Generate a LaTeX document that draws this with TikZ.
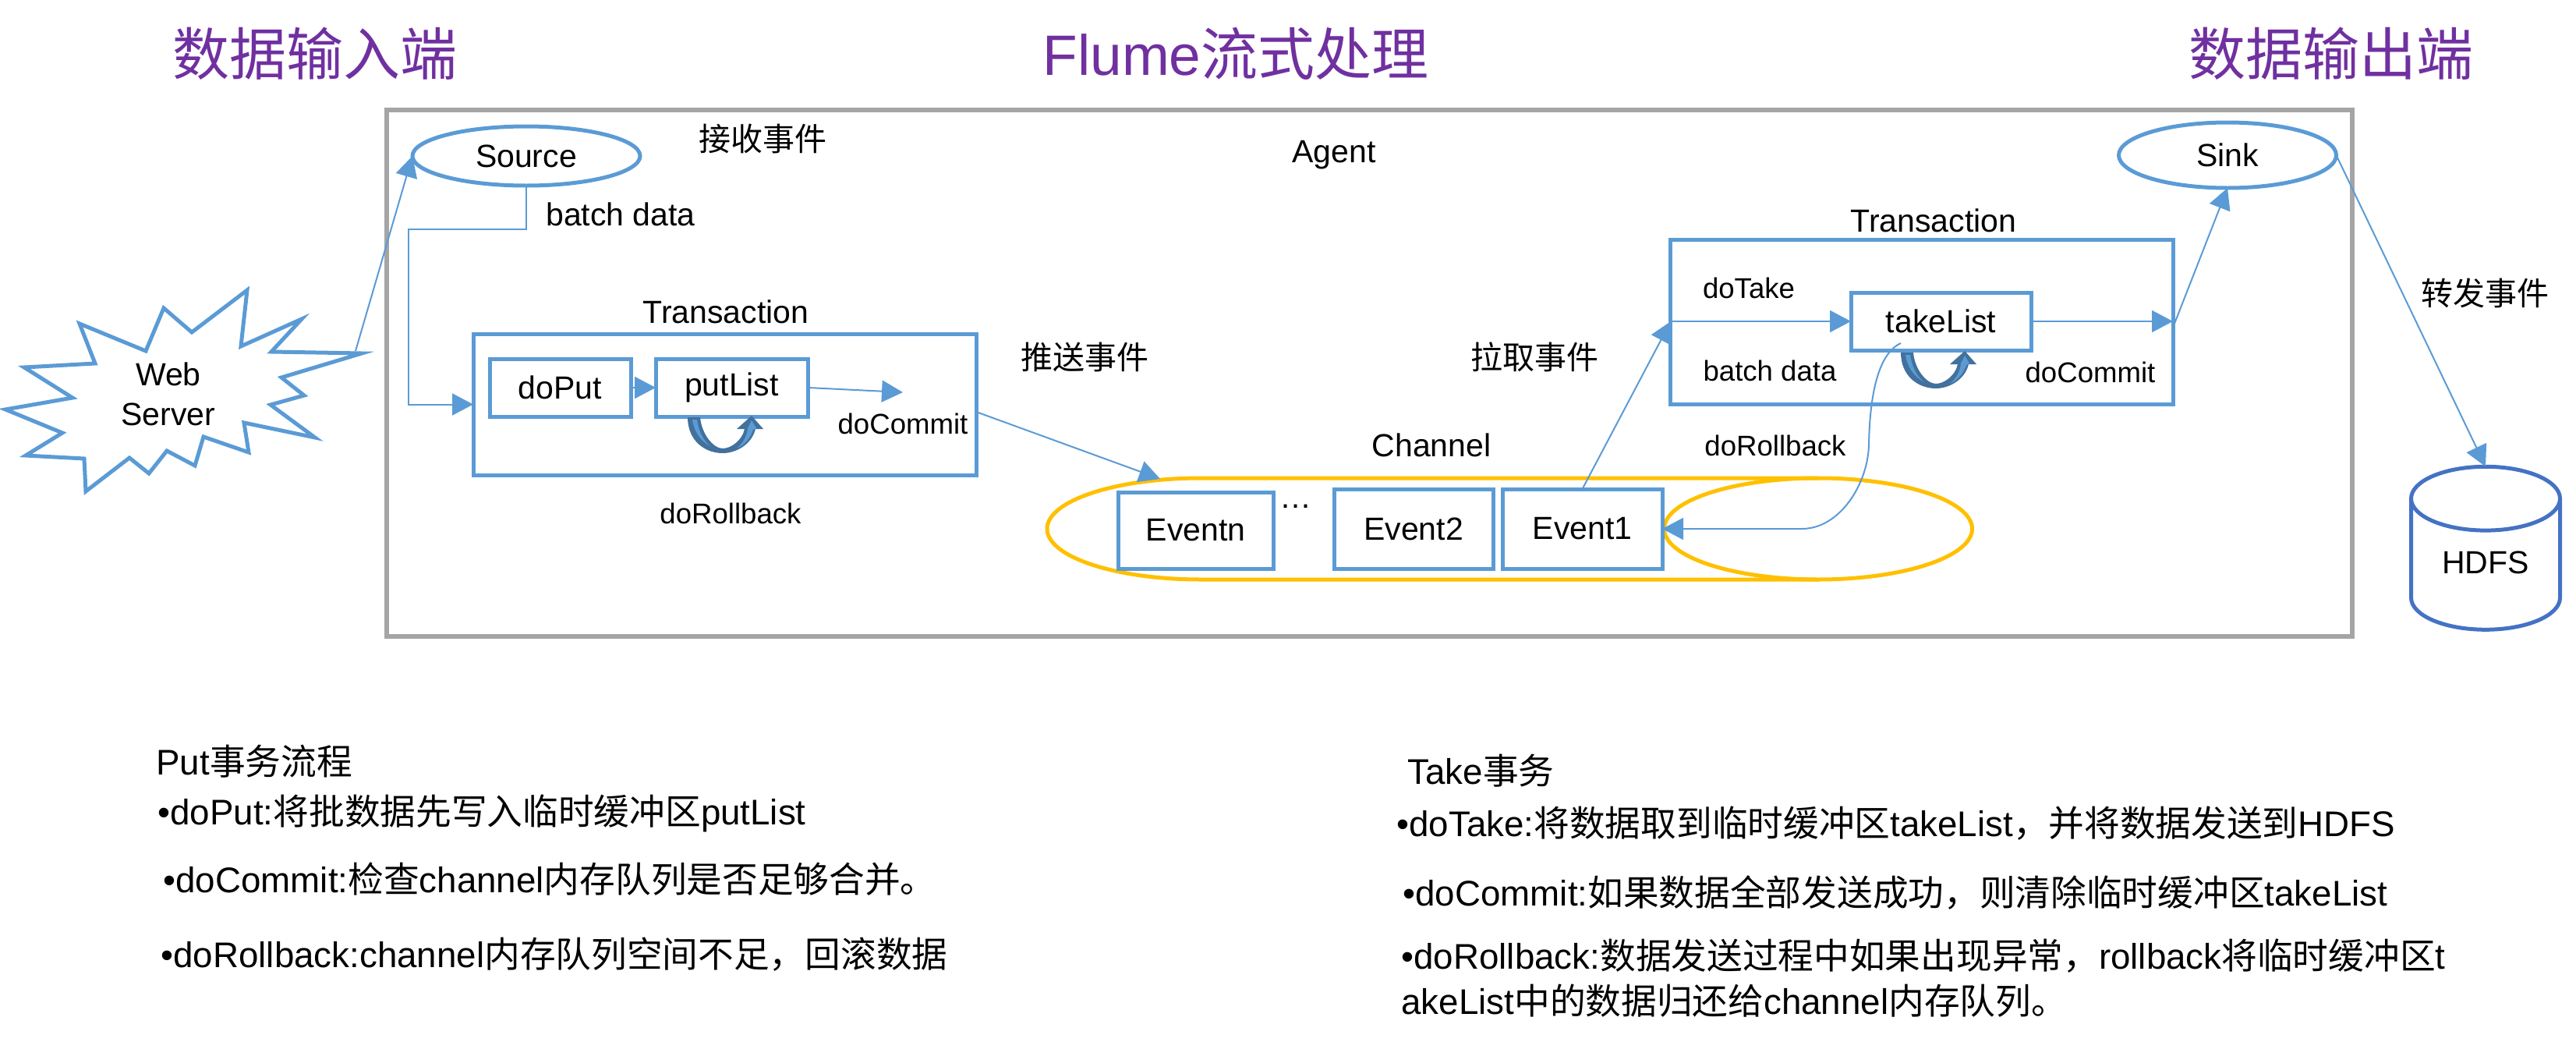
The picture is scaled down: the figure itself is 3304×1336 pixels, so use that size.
\documentclass[tikz,border=0pt]{standalone}
\usepackage{fontspec}
\setmainfont{Liberation Sans}
\newfontfamily\cn{Noto Sans CJK SC}
\usetikzlibrary{arrows.meta, shapes.geometric}
\definecolor{lineblue}{HTML}{5B9BD5}
\definecolor{loopblue}{HTML}{41719C}
\definecolor{dbblue}{HTML}{4472C4}
\definecolor{chanyellow}{HTML}{FFC000}
\definecolor{agentgray}{HTML}{A5A5A5}
\definecolor{titlepurple}{HTML}{7030A0}
\newcommand{\fs}[1]{\fontsize{#1}{#1}\selectfont}

\begin{document}
\begin{tikzpicture}[
            x = 1pt, y = -1pt, % pixels of the sheet
            > = {Triangle[length=27pt,width=28pt]}, % arrow head style
            line width = 5pt,
            lbl/.style = {inner sep = 0pt, font = \fs{41}},
            small/.style = {inner sep = 0pt, font = \fs{36.6}},
            titletext/.style = {inner sep = 0pt, text = titlepurple, font = \fs{73}},
            note/.style = {inner sep = 0pt, anchor = west, font = \fs{45.7}},
            boxnode/.style = {draw = lineblue, fill = white, rectangle, inner sep = 0pt, outer sep = 0pt, font = \fs{41}},
            endnode/.style = {draw = lineblue, ellipse, inner sep = 0pt, outer sep = 0pt, font = \fs{41}},
            conn/.style = {->, draw = lineblue, line width = 2pt},
            pics/rollloop/.style = {code = {
                \fill[loopblue] (0,0) -- (16,0) .. controls (18,22) and (33,40) .. (45,40) .. controls (55,40) and (70,30) .. (73,15)
                    -- (63,15) -- (82,-2) -- (97,15) -- (87,15) .. controls (82,35) and (62,46) .. (45,46) .. controls (22,46) and (0,30) .. (0,0) -- cycle;
                \fill[lineblue] (82,4) -- (88,14) -- (84,16) .. controls (80,28) and (72,36) .. (63,40) .. controls (72,32) and (76,24) .. (77,14) -- cycle;
                \fill[lineblue] (6,3) -- (12,3) .. controls (14,18) and (20,30) .. (30,38) .. controls (16,30) and (8,18) .. (6,3) -- cycle;
            }}
        ]
        \useasboundingbox (0,0) rectangle (3304,1336);

        % titles
        \node[titletext] (inTitle) at (404,69) {\cn 数据输入端};
        \node[titletext] (flumeTitle) at (1585,69) {Flume{\cn 流式处理}};
        \node[titletext] (outTitle) at (2990,69) {\cn 数据输出端};

        % agent frame
        \node[draw = agentgray, line width = 6pt, rectangle, inner sep = 0pt, minimum width = 2521pt, minimum height = 675pt] (agent) at (1756.5,478.5) {};
        \node[lbl] (agentText) at (1711,199) {Agent};

        % web server
        \draw[draw = lineblue] (317,372) -- (309,444) -- (387,409) -- (348,451) -- (464,453) -- (361,484)
            -- (390,507) -- (347,519) -- (404,561) -- (313,542) -- (319,580) -- (261,560) -- (250,597)
            -- (214,578) -- (191,607) -- (166,587) -- (110,630) -- (108,588) -- (33,584) -- (80,555)
            -- (7,525) -- (93,510) -- (31,471) -- (122,466) -- (102,415) -- (187,450) -- (210,395)
            -- (246,426) -- cycle;
        \node[lbl, align = center] (web) at (216,505) {Web\\[10pt]Server};
        \coordinate (webTip) at (456,450);

        % source and sink
        \node[endnode, minimum width = 292pt, minimum height = 76pt] (source) at (675,200) {Source};
        \node[endnode, minimum width = 279pt, minimum height = 84pt] (sink) at (2857,199) {Sink};

        % put side
        \node[boxnode, minimum width = 645pt, minimum height = 181pt] (putTrans) at (929.5,518.5) {};
        \node[boxnode, minimum width = 181pt, minimum height = 74pt] (doPut) at (718.5,497) {doPut};
        \node[boxnode, minimum width = 195pt, minimum height = 74pt] (putList) at (938.5,497) {putList};
        \coordinate (putEnd) at (1158,503);
        \coordinate (bend) at (524,294);
        \node[lbl] (batchUp) at (796,275) {batch data};
        \node[lbl] (putTransText) at (931,400) {Transaction};
        \node[small] (putCommit) at (1158,543) {doCommit};
        \node[small] (putRoll) at (937,658) {doRollback};

        % channel
        \node[draw = chanyellow, ellipse, inner sep = 0pt, outer sep = 0pt, minimum width = 395pt, minimum height = 130pt] (chanEnd) at (2332,678) {};
        \draw[draw = chanyellow] (chanEnd.north) -- (1540,613) .. controls (1431,613) and (1343,642) .. (1343,678)
            .. controls (1343,714) and (1431,743) .. (1540,743) -- (chanEnd.south);
        \node[boxnode, minimum width = 199pt, minimum height = 98pt] (eventn) at (1533.5,680) {Eventn};
        \node[boxnode, minimum width = 204pt, minimum height = 102pt] (event2) at (1813,678) {Event2};
        \node[boxnode, minimum width = 205pt, minimum height = 102pt] (event1) at (2029.5,678) {Event1};
        \node[lbl] (dots) at (1662,649) {\dots};
        \node[lbl] (chanText) at (1836,571) {Channel};
        \coordinate (chanIn) at (1488,614);

        % take side
        \node[boxnode, minimum width = 645pt, minimum height = 211pt] (takeTrans) at (2464.5,412.5) {};
        \node[boxnode, minimum width = 231pt, minimum height = 74pt] (takeList) at (2489.5,412) {takeList};
        \node[lbl] (takeTransText) at (2480,283) {Transaction};
        \node[small] (doTake) at (2243,369) {doTake};
        \node[small] (batchDown) at (2270,475) {batch data};
        \node[small] (takeCommit) at (2681,477) {doCommit};
        \node[small] (takeRoll) at (2277,571) {doRollback};
        \coordinate (takeIn) at (2143,412);
        \coordinate (rollStart) at (2438,440);
        \coordinate (rollMid) at (2397,570);
        \coordinate (rollEnd) at (2311,678);

        % hdfs
        \node[draw = dbblue, cylinder, shape border rotate = 90, aspect = 0.733, inner sep = 0pt, outer sep = 0pt, minimum width = 191pt, minimum height = 209pt, font = \fs{41}] (hdfs) at (3188,724.5) {\raisebox{6pt}{HDFS}};

        % event labels
        \node[lbl] (recvText) at (978,178) {\cn 接收事件};
        \node[lbl] (pushText) at (1391,458) {\cn 推送事件};
        \node[lbl] (pullText) at (1968,458) {\cn 拉取事件};
        \node[lbl] (sendText) at (3187,376) {\cn 转发事件};

        % connectors
        \draw[conn] (webTip) -- (source.west);
        \draw[conn] (source.south) |- (bend) |- (putTrans.west);
        \draw[conn] (doPut) -- (putList);
        \draw[conn] (putList.east) -- (putEnd);
        \draw[conn] (putTrans.east |- 0,528) -- (chanIn);
        \draw[conn] (event1.north) -- (takeIn);
        \draw[conn] (takeTrans.west |- takeList) -- (takeList.west);
        \draw[conn] (takeList.east) -- (takeTrans.east |- takeList);
        \draw[conn] (takeTrans.east |- 0,420) -- (sink.south);
        \draw[conn] (sink.east) -- (hdfs.north);
        \draw[conn] (rollStart) .. controls (2405,455) and (2398,520) .. (rollMid) .. controls (2396,620) and (2360,678) .. (rollEnd) -- (event1.east);

        % roll loops
        \pic (putLoop) at (882,535) {rollloop};
        \pic (takeLoop) at (2438,452) {rollloop};

        % notes
        \node[note] (putHead) at (198,976) {Put{\cn 事务流程}};
        \node[note] (putA) at (200,1043) {•doPut:{\cn 将批数据先写入临时缓冲区}putList};
        \node[note] (putB) at (207,1127) {•doCommit:{\cn 检查}channel{\cn 内存队列是否足够合并。}};
        \node[note] (putC) at (204,1224) {•doRollback:channel{\cn 内存队列空间不足，回滚数据}};
        \node[note] (takeHead) at (1803,988) {Take{\cn 事务}};
        \node[note] (takeA) at (1789,1056) {•doTake:{\cn 将数据取到临时缓冲区}takeList{\cn ，并将数据发送到}HDFS};
        \node[note] (takeB) at (1797,1144) {•doCommit:{\cn 如果数据全部发送成功，则清除临时缓冲区}takeList};
        \node[note] (takeC) at (1795,1226) {•doRollback:{\cn 数据发送过程中如果出现异常，}rollback{\cn 将临时缓冲区}t};
        \node[note] (takeD) at (1795,1283) {akeList{\cn 中的数据归还给}channel{\cn 内存队列。}};
    \end{tikzpicture}
\end{document}
